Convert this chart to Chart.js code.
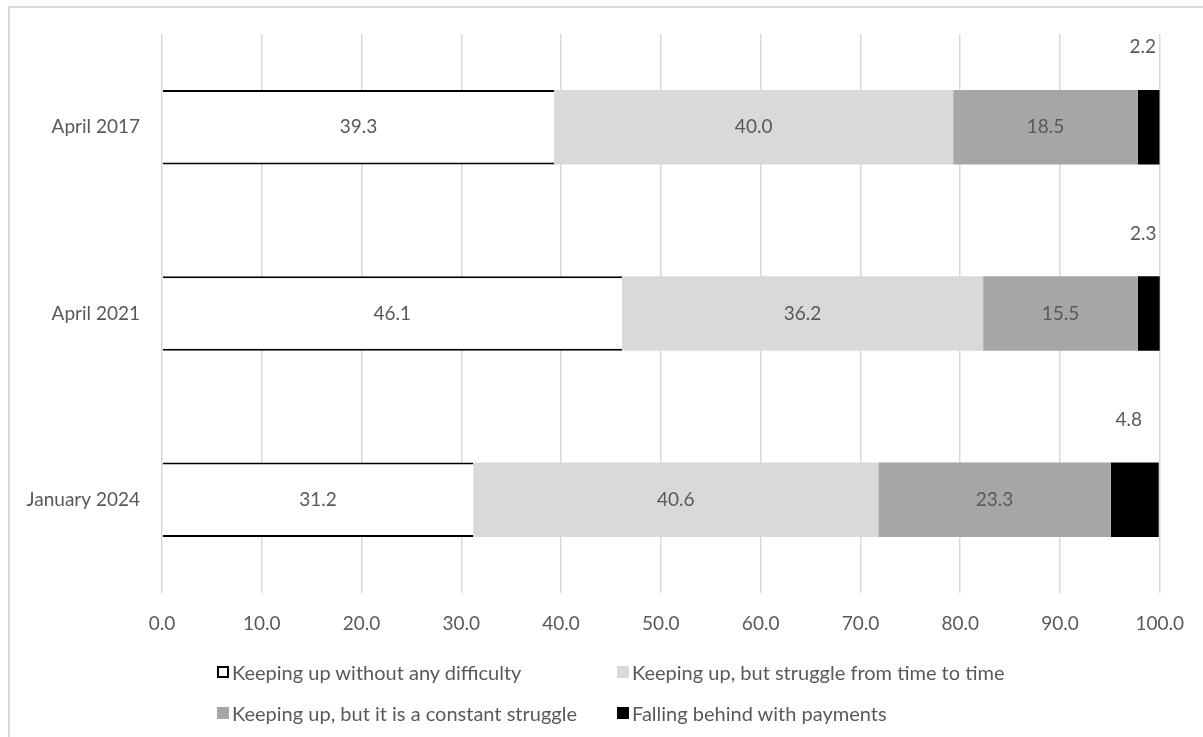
<!DOCTYPE html>
<html lang="en">
<head>
<meta charset="UTF-8" />
<title>Keeping up with bills</title>
<script src="https://cdn.jsdelivr.net/npm/chart.js"></script>
<style>
  body { margin: 0; background: #fff; font-family: Lato, "Open Sans", sans-serif; }
  #wrap { position: relative; width: 1203px; height: 737px; overflow: hidden; }
  #frame { position: absolute; left: 8px; top: 6px; right: -10px; bottom: -10px;
           border-left: 2px solid #d9d9d9; border-top: 2px solid #d9d9d9; }
  #legend { position: absolute; left: 217px; top: 658px; width: 900px;
            display: grid; grid-template-columns: 400px 400px; row-gap: 13px;
            color: #595959; font-size: 20px; }
  .item { display: flex; align-items: center; height: 28px; white-space: nowrap; }
  .box { width: 12px; height: 12px; margin-right: 3px; box-sizing: border-box; }
</style>
</head>
<body>
<div id="wrap">
  <div id="frame"></div>
  <canvas id="grafico"></canvas>
  <div id="legend"></div>
</div>

<script>
  const periods = ["April 2017", "April 2021", "January 2024"];
  const seriesNames = [
    "Keeping up without any difficulty",
    "Keeping up, but struggle from time to time",
    "Keeping up, but it is a constant struggle",
    "Falling behind with payments"
  ];
  const noDifficulty = [39.3, 46.1, 31.2];
  const timeToTime = [40.0, 36.2, 40.6];
  const constantStruggle = [18.5, 15.5, 23.3];
  const fallingBehind = [2.2, 2.3, 4.8];
  const xTicks = [0, 10, 20, 30, 40, 50, 60, 70, 80, 90, 100];

  const fills = ["#ffffff", "#d9d9d9", "#a6a6a6", "#000000"];
  const textColor = "#595959";
  const fontFamily = "Lato, 'Open Sans', sans-serif";

  // value labels: centred in the bar, last series above the bar end
  const etiquetas = {
    id: "etiquetas",
    afterDatasetsDraw(chart) {
      const ctx = chart.ctx;
      ctx.save();
      ctx.font = "19px " + fontFamily;
      ctx.fillStyle = textColor;
      ctx.textAlign = "center";
      ctx.textBaseline = "middle";
      chart.data.datasets.forEach((ds, i) => {
        chart.getDatasetMeta(i).data.forEach((bar, j) => {
          const p = bar.getProps(["x", "y", "base", "height"], true);
          const txt = ds.data[j].toFixed(1);
          const cx = (p.x + p.base) / 2;
          if (i === 3) {
            ctx.fillText(txt, cx - 6, p.y - 80);
          } else {
            ctx.fillText(txt, cx, p.y);
          }
        });
      });
      ctx.restore();
    }
  };

  const valores = [noDifficulty, timeToTime, constantStruggle, fallingBehind];

  new Chart(document.getElementById("grafico"), {
    type: "bar",
    data: {
      labels: periods,
      datasets: seriesNames.map((name, i) => ({
        label: name,
        data: valores[i],
        backgroundColor: fills[i],
        borderColor: "#000000",
        borderWidth: i === 0 ? { top: 2, bottom: 2, left: 0, right: 0 } : 0,
        borderSkipped: false,
        barPercentage: 0.4,
        categoryPercentage: 1.0
      }))
    },
    options: {
      indexAxis: "y",
      responsive: true,
      maintainAspectRatio: false,
      animation: false,
      layout: { padding: { top: 34, right: 37, bottom: 0, left: 0 } },
      plugins: {
        legend: { display: false },
        tooltip: { enabled: false }
      },
      scales: {
        x: {
          stacked: true,
          min: 0,
          max: 100,
          afterBuildTicks: scale => { scale.ticks = xTicks.map(v => ({ value: v })); },
          afterFit: scale => { scale.height = 144; },
          grid: { color: "#d9d9d9", lineWidth: 1.5, drawTicks: false },
          border: { display: false },
          ticks: {
            padding: 19,
            color: textColor,
            font: { family: fontFamily, size: 19 },
            callback: v => Number(v).toFixed(1)
          }
        },
        y: {
          stacked: true,
          afterFit: scale => { scale.width = 162; },
          grid: { display: false, drawTicks: false },
          border: { display: false },
          ticks: {
            padding: 22,
            color: textColor,
            font: { family: fontFamily, size: 19 }
          }
        }
      }
    },
    plugins: [etiquetas]
  });

  // two-column legend under the axis
  const leyenda = document.getElementById("legend");
  seriesNames.forEach((name, i) => {
    const item = document.createElement("div");
    item.className = "item";
    const box = document.createElement("span");
    box.className = "box";
    box.style.background = fills[i];
    if (i === 0) box.style.border = "2px solid #000";
    const txt = document.createElement("span");
    txt.textContent = name;
    item.appendChild(box);
    item.appendChild(txt);
    leyenda.appendChild(item);
  });
</script>
</body>
</html>
